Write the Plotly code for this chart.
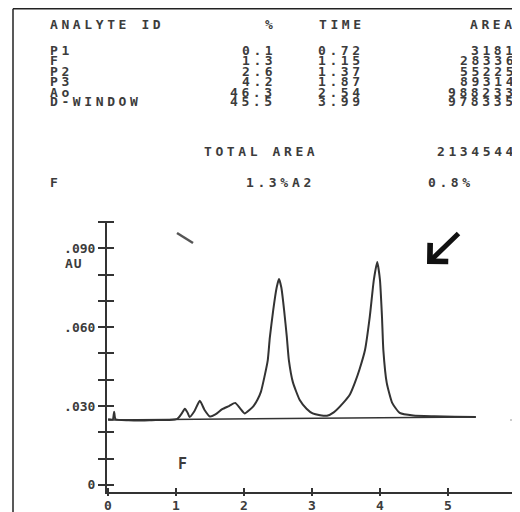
import plotly.graph_objects as go

# ---------------- data ----------------
analyte_ids = ["P1", "F", "P2", "P3", "Ao", "D-WINDOW"]
percents = ["0.1", "1.3", "2.6", "4.2", "46.3", "45.5"]
times = ["0.72", "1.15", "1.37", "1.87", "2.54", "3.99"]
areas = ["3181", "28336", "55225", "89314", "988233", "978335"]
total_area = "2134544"
f_pct = "1.3%"
a2_pct = "0.8%"

# chromatogram trace (time in min, absorbance in AU)
trace_t = [0.00, 0.07, 0.09, 0.11, 0.30, 0.50, 0.70, 0.90, 1.02, 1.08, 1.13, 1.17, 1.20,
           1.27, 1.35, 1.42, 1.50, 1.58, 1.68, 1.78, 1.87, 1.94, 2.01, 2.08, 2.14, 2.20,
           2.25, 2.30, 2.35, 2.38, 2.43, 2.48, 2.515, 2.55, 2.59, 2.63, 2.66, 2.72, 2.82,
           2.92, 3.01, 3.12, 3.22, 3.32, 3.46, 3.56, 3.63, 3.70, 3.78, 3.85, 3.91, 3.96,
           4.00, 4.03, 4.05, 4.10, 4.18, 4.29, 4.49, 4.80, 5.10, 5.41]
trace_au = [0.0250, 0.0249, 0.0278, 0.0250, 0.0246, 0.0245, 0.0247, 0.0247, 0.0251, 0.0270,
            0.0290, 0.0275, 0.0258, 0.0280, 0.0320, 0.0285, 0.0260, 0.0268, 0.0288, 0.0300,
            0.0312, 0.0292, 0.0272, 0.0285, 0.0300, 0.0325, 0.0355, 0.0410, 0.0475, 0.0560,
            0.0665, 0.0750, 0.0783, 0.0750, 0.0665, 0.0563, 0.0475, 0.0390, 0.0323, 0.0290,
            0.0272, 0.0265, 0.0263, 0.0276, 0.0312, 0.0345, 0.0388, 0.0440, 0.0513, 0.0639,
            0.0780, 0.0848, 0.0780, 0.0639, 0.0513, 0.0388, 0.0312, 0.0274, 0.0264, 0.0261,
            0.0259, 0.0258]
baseline_t = [0.0, 5.41]
baseline_au = [0.0247, 0.0258]

y_major_vals = [0, 0.03, 0.06, 0.09]
y_major_text = ["0", ".030", ".060", ".090"]
y_all_ticks = [0, 0.01, 0.02, 0.03, 0.04, 0.05, 0.06, 0.07, 0.08, 0.09, 0.10]
x_ticks = [0, 1, 2, 3, 4, 5, 6]

# ---------------- figure ----------------
INK = "#333333"
TXT = "#3c3c3c"
FONT = "DejaVu Sans Mono"
OFF = 8                      # page body margin of the browser
W, H = 520 - OFF, 512 - OFF
L, R, T, B = 107, 520, 221, 492   # plot area in page pixels

def px(x):
    return (x - L) / (R - L)

def py(y):
    return (B - y) / (B - T)

fig = go.Figure()
fig.add_trace(go.Scatter(x=trace_t, y=trace_au, mode="lines",
                         line=dict(color=INK, width=2, shape="spline", smoothing=0.5),
                         hoverinfo="skip", showlegend=False))
fig.add_trace(go.Scatter(x=baseline_t, y=baseline_au, mode="lines", xaxis="x2", yaxis="y2",
                         line=dict(color=INK, width=1.5), hoverinfo="skip", showlegend=False))

xr = [-0.015, 6.06]
yr = [-0.0027, 0.1004]

fig.update_layout(
    width=W, height=H, autosize=False,
    margin=dict(l=L - OFF, r=520 - R, t=T - OFF, b=512 - B, pad=0),
    paper_bgcolor="white", plot_bgcolor="white",
    font=dict(family=FONT, color=INK, size=12),
    xaxis=dict(range=xr, showgrid=False, zeroline=False, showline=True, linecolor=INK,
               linewidth=2, tickvals=x_ticks, ticks="inside", ticklen=4, tickwidth=2,
               tickcolor=INK, ticklabeloverflow="allow",
               tickfont=dict(family=FONT, size=13, color=TXT, weight="bold")),
    yaxis=dict(range=yr, showgrid=False, zeroline=False, showline=True, linecolor=INK,
               linewidth=2, tickvals=y_major_vals, ticktext=y_major_text, ticks="outside",
               ticklen=7, tickwidth=2, tickcolor=INK,
               minor=dict(tickvals=y_all_ticks, ticks="outside", ticklen=7, tickwidth=2,
                          tickcolor=INK),
               tickfont=dict(family=FONT, size=13, color=TXT, weight="bold")),
    xaxis2=dict(range=xr, overlaying="x", anchor="y2", side="bottom", showgrid=False,
                zeroline=False, showline=False, tickvals=x_ticks, ticks="outside", ticklen=3,
                tickwidth=2, tickcolor=INK, showticklabels=False),
    yaxis2=dict(range=yr, overlaying="y", anchor="x2", side="left", showgrid=False,
                zeroline=False, showline=False, tickvals=y_all_ticks, ticks="inside", ticklen=7,
                tickwidth=2, tickcolor=INK, showticklabels=False),
)

ann = []

def text(s, x, y, anchor="left", size=13, spacing=3.6):
    if spacing:
        s = '<span style="letter-spacing:%.1fpx">%s</span>' % (spacing, s)
        if anchor == "right":
            x += spacing
        elif anchor == "center":
            x += spacing / 2
    ann.append(dict(text=s, x=px(x), y=py(y), xref="paper", yref="paper", showarrow=False,
                    xanchor=anchor, yanchor="middle",
                    font=dict(family=FONT, size=size, color=TXT, weight="bold")))

# table header
text("ANALYTE ID", 48, 24)
text("%", 269, 24, "center")
text("TIME", 340, 24, "center")
text("AREA", 514, 24, "right")
row_y = [50, 60.5, 71, 81.5, 92, 102]
for name, pc, tm, ar, yy in zip(analyte_ids, percents, times, areas, row_y):
    text(name, 48, yy)
    text(pc, 274, yy, "right")
    text(tm, 339, yy, "center")
    text(ar, 515, yy, "right")
text("TOTAL AREA", 259, 152, "center")
text(total_area, 515, 152, "right")
text("F", 48, 183)
text(f_pct, 267, 183, "center")
text("A2", 302, 183, "center")
text(a2_pct, 449, 183, "center")

# axis unit + peak label
text("AU", 63, 263, "left", 13, 1.0)
text("F", 182, 464, "center", 15, 0)

# arrow
ann.append(dict(x=px(427), y=py(264), xref="paper", yref="paper", ax=33, ay=-32,
                axref="pixel", ayref="pixel", text="", showarrow=True, arrowhead=4,
                arrowsize=1, arrowwidth=5, arrowcolor="#111111", standoff=0))
fig.update_layout(annotations=ann)

shapes = [
    dict(type="line", xref="paper", yref="paper", x0=px(13), y0=py(8.8), x1=px(13), y1=py(512),
         line=dict(color="#222222", width=1.5)),
    dict(type="line", xref="paper", yref="paper", x0=px(13), y0=py(8.8), x1=px(520), y1=py(8.8),
         line=dict(color="#222222", width=1.5)),
    dict(type="line", xref="paper", yref="paper", x0=px(177), y0=py(233), x1=px(193), y1=py(243),
         line=dict(color="#555555", width=2.5)),
    dict(type="line", xref="paper", yref="paper", x0=px(510), y0=py(420), x1=px(519), y1=py(420),
         line=dict(color="#999999", width=1.2)),
]
fig.update_layout(shapes=shapes)

fig.write_html("out.html")
